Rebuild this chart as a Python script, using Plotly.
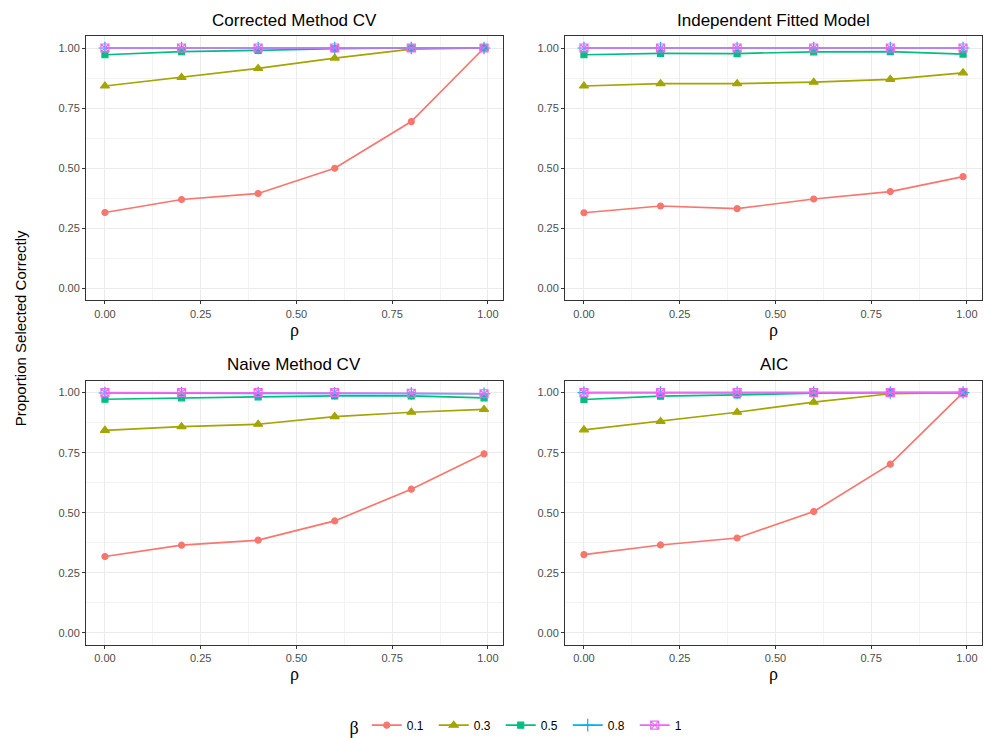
import plotly.graph_objects as go
from plotly.subplots import make_subplots

rho = [0, 0.2, 0.4, 0.6, 0.8, 0.99]
betas = ["0.1", "0.3", "0.5", "0.8", "1"]
panels = ["Corrected Method CV", "Independent Fitted Model", "Naive Method CV", "AIC"]

corrected = {
    "0.1": [0.316, 0.370, 0.395, 0.500, 0.694, 1.000],
    "0.3": [0.842, 0.878, 0.915, 0.958, 0.995, 1.000],
    "0.5": [0.972, 0.985, 0.990, 0.997, 1.000, 1.000],
    "0.8": [1.000, 1.000, 1.000, 1.000, 1.000, 1.000],
    "1":   [1.000, 1.000, 1.000, 1.000, 1.000, 1.000],
}
independent = {
    "0.1": [0.315, 0.343, 0.332, 0.372, 0.403, 0.465],
    "0.3": [0.842, 0.852, 0.852, 0.858, 0.870, 0.897],
    "0.5": [0.972, 0.978, 0.977, 0.984, 0.985, 0.975],
    "0.8": [1.000, 1.000, 1.000, 1.000, 1.000, 1.000],
    "1":   [1.000, 1.000, 1.000, 1.000, 1.000, 1.000],
}
naive = {
    "0.1": [0.318, 0.365, 0.386, 0.466, 0.598, 0.745],
    "0.3": [0.843, 0.858, 0.868, 0.900, 0.918, 0.930],
    "0.5": [0.972, 0.978, 0.982, 0.986, 0.986, 0.978],
    "0.8": [0.998, 0.998, 0.998, 0.997, 0.996, 0.995],
    "1":   [1.000, 1.000, 1.000, 1.000, 0.997, 0.995],
}
aic = {
    "0.1": [0.326, 0.366, 0.395, 0.505, 0.702, 1.000],
    "0.3": [0.845, 0.880, 0.918, 0.960, 0.995, 1.000],
    "0.5": [0.971, 0.985, 0.990, 0.997, 1.000, 1.000],
    "0.8": [1.000, 1.000, 1.000, 1.000, 1.000, 1.000],
    "1":   [1.000, 1.000, 1.000, 1.000, 1.000, 1.000],
}
data = [corrected, independent, naive, aic]

colors = {"0.1": "#F8766D", "0.3": "#A3A500", "0.5": "#00BF7D", "0.8": "#00B0F6", "1": "#E76BF3"}
symbols = {"0.1": "circle", "0.3": "triangle-up", "0.5": "square", "0.8": "cross-thin-open", "1": "square-x-open"}
msizes = {"0.1": 6, "0.3": 8, "0.5": 6, "0.8": 9, "1": 8}

fig = make_subplots(rows=2, cols=2, horizontal_spacing=0.0692, vertical_spacing=0.1314)

for i, d in enumerate(data):
    r, c = i // 2 + 1, i % 2 + 1
    for b in betas:
        fig.add_trace(go.Scatter(
            x=rho, y=d[b], mode="lines+markers", name=b,
            legendgroup=b, showlegend=(i == 0),
            line=dict(color=colors[b], width=1.7),
            marker=dict(symbol=symbols[b], size=msizes[b], color=colors[b],
                        line=dict(color=colors[b], width=1.2)),
        ), row=r, col=c)

font_fam = "Liberation Sans, Arial, sans-serif"
for i in range(4):
    r, c = i // 2 + 1, i % 2 + 1
    fig.update_xaxes(range=[-0.0495, 1.0395], tickvals=[0, 0.25, 0.5, 0.75, 1.0],
                     ticktext=["0.00", "0.25", "0.50", "0.75", "1.00"],
                     showgrid=True, gridcolor="#EBEBEB", gridwidth=1,
                     minor=dict(tickvals=[0.125, 0.375, 0.625, 0.875], showgrid=True,
                                gridcolor="#F3F3F3", gridwidth=0.6, ticks=""),
                     ticks="outside", ticklen=3, tickcolor="#333333",
                     showline=True, linecolor="#333333", linewidth=1, mirror=True,
                     zeroline=False, tickfont=dict(size=11, color="#4D4D4D", family=font_fam),
                     title=dict(text="ρ", font=dict(size=18, color="black", family="Liberation Serif, serif"),
                                standoff=2),
                     row=r, col=c)
    fig.update_yaxes(range=[-0.05, 1.05], tickvals=[0, 0.25, 0.5, 0.75, 1.0],
                     ticktext=["0.00", "0.25", "0.50", "0.75", "1.00"],
                     showgrid=True, gridcolor="#EBEBEB", gridwidth=1,
                     minor=dict(tickvals=[0.125, 0.375, 0.625, 0.875], showgrid=True,
                                gridcolor="#F3F3F3", gridwidth=0.6, ticks=""),
                     ticks="outside", ticklen=3, tickcolor="#333333",
                     showline=True, linecolor="#333333", linewidth=1, mirror=True,
                     zeroline=False, tickfont=dict(size=11, color="#4D4D4D", family=font_fam),
                     row=r, col=c)

# subplot titles
title_pos = [(0.2327, 1.0), (0.7673, 1.0), (0.2327, 0.4351), (0.7673, 0.4351)]
for t, (x, y) in zip(panels, title_pos):
    fig.add_annotation(text=t, x=x, y=y, xref="paper", yref="paper",
                       xanchor="center", yanchor="bottom", yshift=4, showarrow=False,
                       font=dict(size=17, color="black", family=font_fam))

fig.add_annotation(text="Proportion Selected Correctly", x=0, y=0.52, xref="paper", yref="paper",
                   xanchor="center", yanchor="middle", xshift=-66, textangle=-90, showarrow=False,
                   font=dict(size=15, color="black", family=font_fam))

fig.update_layout(
    width=984, height=738,
    margin=dict(l=86, r=2, t=36, b=93, autoexpand=False),
    paper_bgcolor="white", plot_bgcolor="white",
    font=dict(family=font_fam),
    legend=dict(orientation="h", x=0.49, xanchor="center", yref="container", y=0.014, yanchor="middle",
                title=dict(text="β", font=dict(size=18, family="Liberation Serif, serif", color="black")),
                font=dict(size=12, color="black", family=font_fam),
                itemwidth=30, entrywidth=22, entrywidthmode="pixels", tracegroupgap=0),
)

fig.write_html("out.html", config={"displayModeBar": False},
               post_script="document.body.style.margin='0';document.body.style.overflow='hidden';")
